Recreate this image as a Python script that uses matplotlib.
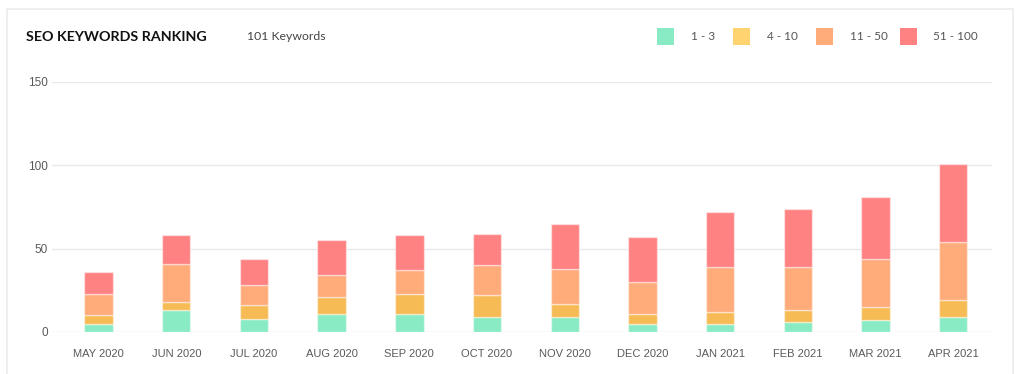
import matplotlib
matplotlib.use("Agg")
import matplotlib.pyplot as plt
from matplotlib.patches import Rectangle
import numpy as np

months = ["MAY 2020", "JUN 2020", "JUL 2020", "AUG 2020", "SEP 2020", "OCT 2020",
          "NOV 2020", "DEC 2020", "JAN 2021", "FEB 2021", "MAR 2021", "APR 2021"]
rank_1_3 = [5, 13, 8, 11, 11, 9, 9, 5, 5, 6, 7, 9]
rank_4_10 = [5, 5, 8, 10, 12, 13, 8, 6, 7, 7, 8, 10]
rank_11_50 = [13, 23, 12, 13, 14, 18, 21, 19, 27, 26, 29, 35]
rank_51_100 = [13, 17, 16, 21, 21, 19, 27, 27, 33, 35, 37, 47]
series_labels = ["1 - 3", "4 - 10", "11 - 50", "51 - 100"]
bar_colors = ["#88EBC3", "#F6BB55", "#FFAB7A", "#FF8283"]
legend_colors = ["#88EBC3", "#FFD370", "#FFAB7A", "#FF8283"]
y_ticks = [0, 50, 100, 150]

W, H = 1024, 374
fig = plt.figure(figsize=(W / 100, H / 100), dpi=100)
fig.patch.set_facecolor("white")

# card border
fig.patches.append(Rectangle((7 / W, -0.05), (1013 - 7) / W, 1.05 - 9 / H,
                             transform=fig.transFigure, fill=False,
                             edgecolor="#EBEBEB", linewidth=1.2))

ax_left, ax_right = 52 / W, 992 / W
ax_bottom, ax_top = 1 - 332 / H, 1 - 82 / H
ax = fig.add_axes([ax_left, ax_bottom, ax_right - ax_left, ax_top - ax_bottom])

x = np.arange(len(months))
bottom = np.zeros(len(months))
for vals, col in zip([rank_1_3, rank_4_10, rank_11_50, rank_51_100], bar_colors):
    ax.bar(x, vals, width=0.365, bottom=bottom, color=col,
           edgecolor=(1, 1, 1, 0.45), linewidth=1.0, zorder=3)
    bottom += np.array(vals)

ax.set_xlim(-0.6, 11.5)
ax.set_ylim(0, 150)
ax.set_yticks(y_ticks)
ax.set_xticks(x)
ax.set_xticklabels(months)
ax.grid(axis="y", color="#E8E9EE", linewidth=1.0, zorder=0)
for s in ax.spines.values():
    s.set_visible(False)
ax.tick_params(axis="x", length=0, labelsize=8, labelcolor="#5A5A5A", pad=12)
ax.tick_params(axis="y", length=0, labelsize=8.5, labelcolor="#5A5A5A", pad=3)
for lbl in ax.get_xticklabels() + ax.get_yticklabels():
    lbl.set_family(["Liberation Sans", "DejaVu Sans"])

# header
fig.text(26 / W, 1 - 37 / H, "SEO KEYWORDS RANKING", fontsize=10.3, fontweight="bold",
         family=["Lato", "DejaVu Sans"], color="#111111", va="center", ha="left")
fig.text(247 / W, 1 - 36 / H, "101 Keywords", fontsize=8.8,
         family=["Lato", "DejaVu Sans"], color="#444444", va="center", ha="left")

# legend
sq_x = [657, 733, 816, 900]
lab_x = [691, 767, 850, 933]
for sx, lx, col, lab in zip(sq_x, lab_x, legend_colors, series_labels):
    fig.patches.append(Rectangle((sx / W, 1 - 45 / H), 17 / W, 17 / H,
                                 transform=fig.transFigure, facecolor=col,
                                 edgecolor="none"))
    fig.text(lx / W, 1 - 36 / H, lab, fontsize=8.5, family=["Lato", "DejaVu Sans"],
             color="#555555", va="center", ha="left")

fig.savefig("out.png", dpi=100, facecolor="white")
